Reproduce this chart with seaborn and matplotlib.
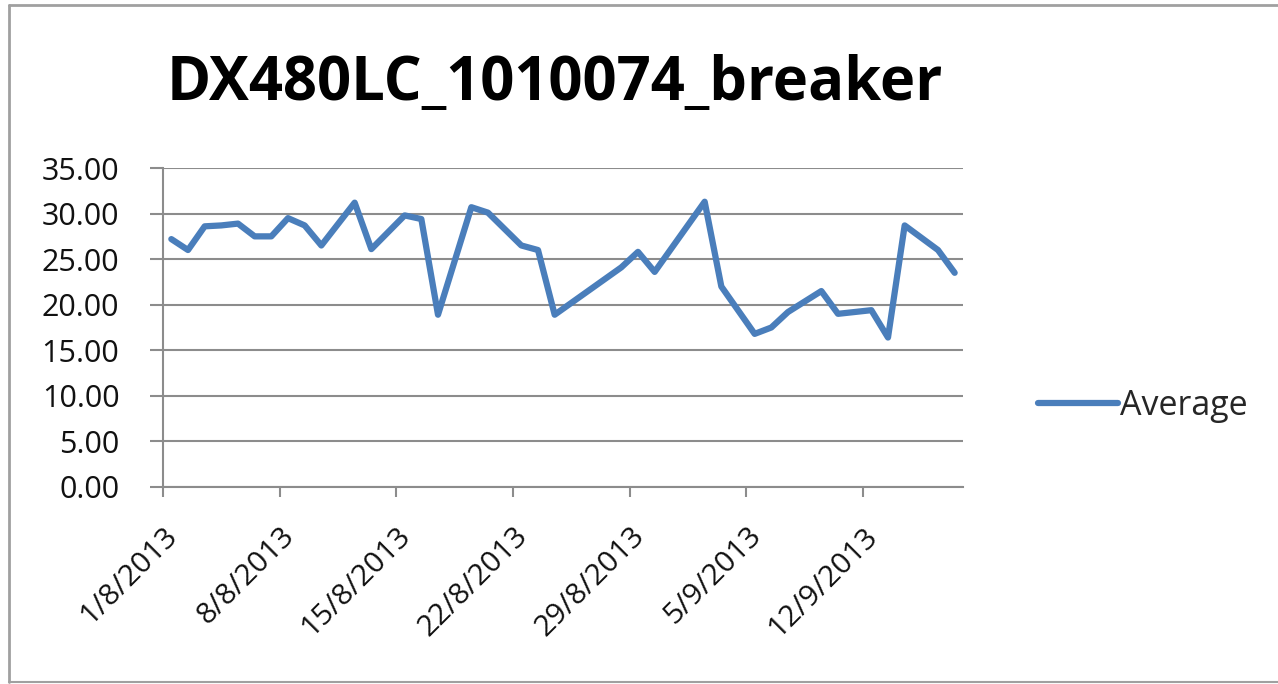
import matplotlib
matplotlib.use("Agg")
import matplotlib.pyplot as plt
from matplotlib.lines import Line2D
import seaborn as sns
import pandas as pd

# ---- data ----
title = "DX480LC_1010074_breaker"
series_name = "Average"
dates = ["2013-08-01", "2013-08-02", "2013-08-03", "2013-08-04", "2013-08-05",
         "2013-08-06", "2013-08-07", "2013-08-08", "2013-08-09", "2013-08-10",
         "2013-08-12", "2013-08-13", "2013-08-15", "2013-08-16", "2013-08-17",
         "2013-08-19", "2013-08-20", "2013-08-22", "2013-08-23", "2013-08-24",
         "2013-08-28", "2013-08-29", "2013-08-30", "2013-09-02", "2013-09-03",
         "2013-09-05", "2013-09-06", "2013-09-07", "2013-09-09", "2013-09-10",
         "2013-09-12", "2013-09-13", "2013-09-14", "2013-09-16", "2013-09-17"]
values = [27.2, 26.0, 28.6, 28.7, 28.9,
          27.5, 27.5, 29.5, 28.7, 26.5,
          31.2, 26.1, 29.8, 29.4, 18.9,
          30.7, 30.1, 26.5, 26.0, 18.9,
          24.1, 25.8, 23.6, 31.3, 22.0,
          16.8, 17.5, 19.2, 21.5, 19.0,
          19.4, 16.4, 28.7, 26.0, 23.5]
x_ticks = ["2013-08-01", "2013-08-08", "2013-08-15", "2013-08-22",
           "2013-08-29", "2013-09-05", "2013-09-12"]
x_tick_labels = ["1/8/2013", "8/8/2013", "15/8/2013", "22/8/2013",
                 "29/8/2013", "5/9/2013", "12/9/2013"]
y_ticks = [0, 5, 10, 15, 20, 25, 30, 35]
x_range = ["2013-08-01", "2013-09-18"]

df = pd.DataFrame({"date": pd.to_datetime(dates) + pd.Timedelta(hours=12),
                   "value": values,
                   "series": series_name})

sns.set_style("white")
plt.rcParams["font.family"] = ["Open Sans", "DejaVu Sans"]

W, H = 1278, 684
fig = plt.figure(figsize=(W / 100, H / 100), dpi=100)
ax = fig.add_axes([163 / W, 1 - 487 / H, (963 - 163) / W, (487 - 168) / H])

line_color = "#4A7EBB"
grid_color = "#8C8C8C"

sns.lineplot(data=df, x="date", y="value", hue="series", palette=[line_color],
             ax=ax, linewidth=4.5, legend=True, solid_joinstyle="round",
             solid_capstyle="round")

ax.set_xlim(pd.to_datetime(x_range[0]), pd.to_datetime(x_range[1]))
ax.set_ylim(0, 35)
ax.set_yticks(y_ticks)
ax.set_yticklabels([f"{v:.2f}" for v in y_ticks])
ax.set_xticks(pd.to_datetime(x_ticks))
ax.set_xticklabels(x_tick_labels, rotation=45, ha="right", va="top",
                   rotation_mode="anchor")
ax.set_xlabel("")
ax.set_ylabel("")

ax.yaxis.grid(True, color=grid_color, linewidth=1.5)
ax.xaxis.grid(False)
ax.set_axisbelow(True)
for s in ["top", "right"]:
    ax.spines[s].set_visible(False)
for s in ["left", "bottom"]:
    ax.spines[s].set_color(grid_color)
    ax.spines[s].set_linewidth(1.5)

ax.tick_params(axis="y", which="major", left=True, length=9.4, width=1.5,
               color=grid_color, pad=22, labelsize=22, labelcolor="#111111")
ax.tick_params(axis="x", which="major", bottom=True, length=7, width=1.5,
               color=grid_color, pad=18, labelsize=21.5, labelcolor="#111111")

# legend
handles, labels = ax.get_legend_handles_labels()
ax.legend(handles=handles, labels=labels, loc="center left",
          bbox_to_anchor=(1038 / W, 1 - 406 / H), bbox_transform=fig.transFigure,
          frameon=False, fontsize=24.5, handlelength=2.35, handletextpad=0.05,
          borderpad=0, borderaxespad=0)

# title
fig.text(555 / W, 1 - 100 / H, title, ha="center", va="baseline",
         fontsize=43, fontweight="bold", color="#000000")

# outer frame
frame_color = "#A0A0A0"
fig.add_artist(Line2D([9 / W, 1], [1 - 5 / H, 1 - 5 / H], transform=fig.transFigure,
                      color=frame_color, linewidth=2))
fig.add_artist(Line2D([9 / W, 9 / W], [1 - 5 / H, 1 - 682 / H],
                      transform=fig.transFigure, color=frame_color, linewidth=2))
fig.add_artist(Line2D([9 / W, 1], [1 - 682 / H, 1 - 682 / H],
                      transform=fig.transFigure, color=frame_color, linewidth=1.5))

fig.savefig("out.png", dpi=100, facecolor="white")
